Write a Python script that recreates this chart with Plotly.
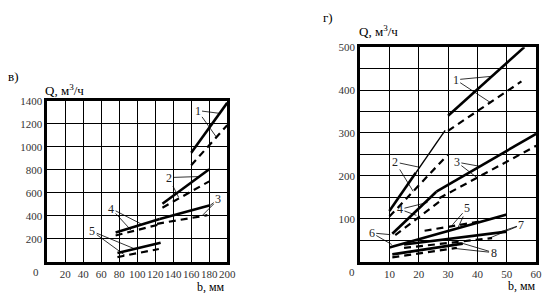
import plotly.graph_objects as go

# ---------------- Data: left panel (в) ----------------
L_xticks = [0, 20, 40, 60, 80, 100, 120, 140, 160, 180, 200]
L_yticks = [0, 200, 400, 600, 800, 1000, 1200, 1400]

L1_sx = [160, 200]; L1_sy = [950, 1385]
L1_dx = [160, 200]; L1_dy = [840, 1190]
L2_sx = [128, 180]; L2_sy = [505, 805]
L2_dx = [128, 180]; L2_dy = [470, 700]
L3_sx = [125, 181]; L3_sy = [372, 492]
L3_dx = [122, 178]; L3_dy = [330, 405]
L4_sx = [76, 125];  L4_sy = [255, 372]
L4_dx = [76, 125];  L4_dy = [228, 325]
L5_sx = [78, 126];  L5_sy = [75, 165]
L5_dx = [78, 124];  L5_dy = [40, 110]

L_labels = ["1", "2", "3", "4", "5"]
L_lab_x = [167, 135, 190, 71, 50]
L_lab_y = [1317, 733, 543, 463, 264]
L_tip1_x = [191, 170, 181, 104, 97]
L_tip1_y = [1293, 742, 491, 330, 112]
L_tip2_x = [188, 146, 172, 93, 86]
L_tip2_y = [1085, 560, 400, 275, 58]

# ---------------- Data: right panel (г) ----------------
R_xticks = [0, 10, 20, 30, 40, 50, 60]
R_yticks = [0, 50, 100, 150, 200, 250, 300, 350, 400, 450, 500]

R1_sx = [30, 56];  R1_sy = [340, 500]
R1_dx = [30, 55];  R1_dy = [305, 420]
R2_sx = [10, 19];  R2_sy = [118, 207]      # thick lower part
R2_tx = [19, 29];  R2_ty = [207, 306]      # thin upper part
R2_dx = [10, 30];  R2_dy = [105, 250]
R3_sx = [26, 60];  R3_sy = [163, 298]
R3_dx = [27, 60];  R3_dy = [148, 270]
R4_sx = [11, 26];  R4_sy = [65, 163]
R4_dx = [12, 27];  R4_dy = [62, 140]
R5_dx = [22, 42];  R5_dy = [72, 95]
R6_sx = [10, 50];  R6_sy = [33, 110]
R7_sx = [15, 50];  R7_sy = [40, 70]
R7_dx = [15, 45];  R7_dy = [32, 55]
R8_sx = [11, 35];  R8_sy = [17, 42]
R8_dx = [11, 33];  R8_dy = [10, 32]

R_labels = ["1", "2", "3", "4", "5", "6", "7", "8"]
R_lab_x = [32.6, 12.0, 33.0, 13.6, 36.5, 4.0, 55.0, 45.5]
R_lab_y = [424, 232, 232, 122, 125, 67, 86, 21]
R_tip1_x = [44.9, 20.3, 41.0, 23.0, 31.5, 10.3, 47.2, 33.8]
R_tip1_y = [432, 220, 222, 138, 86, 63, 68, 45]
R_tip2_x = [44.4, 18.1, 40.0, 19.2, 33.5, 10.8, 43.8, 32.0]
R_tip2_y = [371, 164, 195, 108, 81, 40, 54, 31]

FONT = "Liberation Serif"
fig = go.Figure()

SOLID = dict(color="black", width=2.6)
THIN = dict(color="black", width=1.4)
DASH = dict(color="black", width=2.2, dash="7px,5px")

def add(xs, ys, style, ax):
    fig.add_trace(go.Scatter(x=xs, y=ys, mode="lines", line=style,
                             xaxis="x" if ax == 1 else "x2",
                             yaxis="y" if ax == 1 else "y2",
                             showlegend=False, hoverinfo="skip"))

for sx, sy, dx, dy in [(L1_sx, L1_sy, L1_dx, L1_dy), (L2_sx, L2_sy, L2_dx, L2_dy),
                       (L3_sx, L3_sy, L3_dx, L3_dy), (L4_sx, L4_sy, L4_dx, L4_dy),
                       (L5_sx, L5_sy, L5_dx, L5_dy)]:
    add(sx, sy, SOLID, 1)
    add(dx, dy, DASH, 1)

for sx, sy in [(R1_sx, R1_sy), (R2_sx, R2_sy), (R3_sx, R3_sy), (R4_sx, R4_sy),
               (R6_sx, R6_sy), (R7_sx, R7_sy), (R8_sx, R8_sy)]:
    add(sx, sy, SOLID, 2)
add(R2_tx, R2_ty, THIN, 2)
for dx, dy in [(R1_dx, R1_dy), (R2_dx, R2_dy), (R3_dx, R3_dy), (R4_dx, R4_dy),
               (R5_dx, R5_dy), (R7_dx, R7_dy), (R8_dx, R8_dy)]:
    add(dx, dy, DASH, 2)

annotations = []
def pointer(lab, lx, ly, tx, ty, xr, yr, visible):
    annotations.append(dict(
        x=tx, y=ty, xref=xr, yref=yr, ax=lx, ay=ly, axref=xr, ayref=yr,
        text=lab, showarrow=True, arrowhead=0, arrowwidth=0.8, arrowcolor="black",
        font=dict(family=FONT, size=12, color="#222" if visible else "rgba(255,255,255,0)")))

for i, lab in enumerate(L_labels):
    pointer(lab, L_lab_x[i], L_lab_y[i], L_tip2_x[i], L_tip2_y[i], "x", "y", False)
    pointer(lab, L_lab_x[i], L_lab_y[i], L_tip1_x[i], L_tip1_y[i], "x", "y", True)
for i, lab in enumerate(R_labels):
    pointer(lab, R_lab_x[i], R_lab_y[i], R_tip2_x[i], R_tip2_y[i], "x2", "y2", False)
    pointer(lab, R_lab_x[i], R_lab_y[i], R_tip1_x[i], R_tip1_y[i], "x2", "y2", True)

W, H = 552, 293
def px(x): return x / W
def py(y): return 1 - y / H

TITLEFONT = dict(family=FONT, size=13, color="black")
AXTFONT = dict(family=FONT, size=12, color="black")
annotations += [
    dict(text="в)", x=px(6), y=py(72), xref="paper", yref="paper", showarrow=False,
         xanchor="left", yanchor="middle", font=TITLEFONT),
    dict(text="г)", x=px(326), y=py(12), xref="paper", yref="paper", showarrow=False,
         xanchor="left", yanchor="middle", font=TITLEFONT),
    dict(text="Q, м<sup>3</sup>/ч", x=px(44), y=py(86), xref="paper", yref="paper", showarrow=False,
         xanchor="left", yanchor="middle", font=TITLEFONT),
    dict(text="Q, м<sup>3</sup>/ч", x=px(363), y=py(26), xref="paper", yref="paper", showarrow=False,
         xanchor="left", yanchor="middle", font=TITLEFONT),
    dict(text="b, мм", x=px(231), y=py(287), xref="paper", yref="paper", showarrow=False,
         xanchor="right", yanchor="middle", font=AXTFONT),
    dict(text="b, мм", x=px(547), y=py(286), xref="paper", yref="paper", showarrow=False,
         xanchor="right", yanchor="middle", font=AXTFONT),
    dict(text="0", x=0, y=0, xref="x", yref="y", showarrow=False, xshift=-11, yshift=-10,
         font=dict(family=FONT, size=11, color="#333")),
    dict(text="0", x=0, y=0, xref="x2", yref="y2", showarrow=False, xshift=-8, yshift=-10,
         font=dict(family=FONT, size=11, color="#333")),
]

TICKFONT = dict(family=FONT, size=11, color="#333")
def axis(domain, rng, ticks, labels, anchor):
    return dict(domain=domain, range=rng, tickmode="array", tickvals=ticks, ticktext=labels,
                showgrid=True, gridcolor="black", gridwidth=1, zeroline=False,
                showline=True, linecolor="black", linewidth=2.5, mirror=True,
                ticks="", tickfont=TICKFONT, tickangle=0, anchor=anchor, fixedrange=True)

fig.update_layout(
    width=W, height=H, margin=dict(l=0, r=0, t=0, b=0),
    paper_bgcolor="white", plot_bgcolor="white", showlegend=False,
    xaxis=axis([px(48), px(231)], [0, 200], L_xticks,
               ["" if v == 0 else str(v) for v in L_xticks], "y"),
    yaxis=axis([1 - 261 / H, 1 - 97 / H], [0, 1400], L_yticks,
               ["" if v == 0 else str(v) for v in L_yticks], "x"),
    xaxis2=axis([px(366), px(545)], [0, 60], R_xticks,
                ["" if v == 0 else str(v) for v in R_xticks], "y2"),
    yaxis2=axis([1 - 261 / H, 1 - 42 / H], [0, 500], R_yticks,
                [str(v) if v % 100 == 0 and v > 0 else "" for v in R_yticks], "x2"),
    annotations=annotations,
)

fig.write_html("out.html")
